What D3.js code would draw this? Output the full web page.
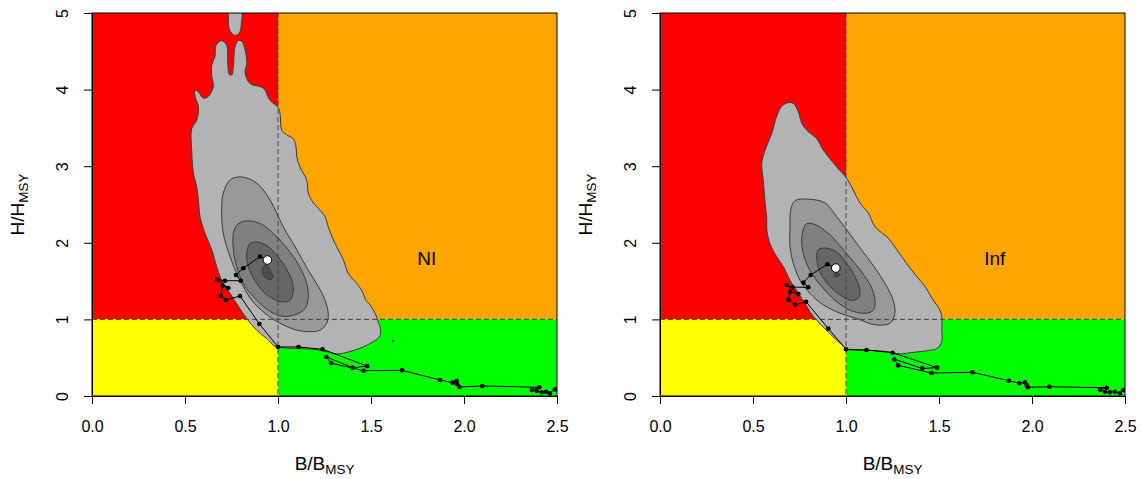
<!DOCTYPE html>
<html>
<head>
<meta charset="utf-8">
<script src="https://cdn.jsdelivr.net/npm/d3@7"></script>
<style>
  body { margin: 0; background: #fff; }
  text { font-family: "Liberation Sans", Arial, sans-serif; fill: #000; }
</style>
</head>
<body>
<svg width="1142" height="479"></svg>
<script>
const xTicks = [0, 0.5, 1, 1.5, 2, 2.5];
const yTicks = [0, 1, 2, 3, 4, 5];
const panelLabels = ["NI", "Inf"];

// kobe quadrants: [B0, B1, H0, H1, colour]
const quadrants = [
  [0, 1, 1, 5, "#ff0000"],
  [1, 2.5, 1, 5, "#ffa500"],
  [0, 1, 0, 1, "#ffff00"],
  [1, 2.5, 0, 1, "#00ff00"],
];
const contourFills = ["#b3b3b3", "#999999", "#808080", "#666666", "#4d4d4d"];

// ---- NI panel: density contours (B/Bmsy, H/Hmsy) ----
const niContour1 = [
  [1.00, 3.77], [0.957, 3.86], [0.921, 4.02], [0.849, 4.08], [0.823, 4.23], [0.832, 4.34],
  [0.823, 4.52], [0.805, 4.63], [0.787, 4.64], [0.769, 4.56], [0.76, 4.3], [0.751, 4.19],
  [0.738, 4.2], [0.73, 4.34], [0.724, 4.58], [0.697, 4.64], [0.667, 4.58], [0.661, 4.43],
  [0.644, 4.32], [0.644, 4.17], [0.652, 4.04], [0.625, 3.91], [0.598, 3.89], [0.572, 3.97],
  [0.554, 3.99], [0.554, 3.91], [0.572, 3.78], [0.563, 3.6], [0.536, 3.49], [0.536, 3.21],
  [0.545, 2.91], [0.563, 2.73], [0.572, 2.56], [0.581, 2.34], [0.608, 2.12], [0.644, 1.91],
  [0.67, 1.69], [0.697, 1.51], [0.742, 1.34], [0.787, 1.17], [0.832, 1.01], [0.885, 0.86],
  [0.939, 0.75], [0.984, 0.65], [1.02, 0.63], [1.118, 0.62], [1.226, 0.6], [1.316, 0.55],
  [1.387, 0.58], [1.459, 0.64], [1.512, 0.71], [1.545, 0.77], [1.552, 0.86], [1.539, 0.97],
  [1.522, 1.08], [1.495, 1.19], [1.473, 1.25], [1.45, 1.38], [1.423, 1.47], [1.378, 1.6],
  [1.351, 1.78], [1.324, 1.91], [1.297, 2.04], [1.27, 2.21], [1.253, 2.34], [1.217, 2.45],
  [1.19, 2.52], [1.163, 2.65], [1.154, 2.82], [1.118, 2.99], [1.101, 3.12], [1.097, 3.25],
  [1.082, 3.36], [1.047, 3.41], [1.02, 3.47], [1.011, 3.69],
];
const niContour1Top = [
  [0.74, 5.05], [0.733, 4.92], [0.74, 4.78], [0.765, 4.71], [0.79, 4.73], [0.803, 4.86], [0.80, 5.05],
];
const niContour1Dot = [[1.612, 0.72], [1.618, 0.73], [1.624, 0.72], [1.618, 0.71]];
const niContour2 = [
  [0.787, 2.86], [0.742, 2.82], [0.706, 2.65], [0.697, 2.43], [0.706, 2.12], [0.742, 1.82],
  [0.778, 1.6], [0.813, 1.43], [0.859, 1.25], [0.93, 1.08], [1.011, 0.95], [1.101, 0.86],
  [1.172, 0.84], [1.226, 0.86], [1.262, 0.95], [1.27, 1.08], [1.253, 1.25], [1.217, 1.43],
  [1.163, 1.64], [1.101, 1.91], [1.028, 2.21], [0.993, 2.39], [0.957, 2.56], [0.921, 2.69],
  [0.885, 2.78], [0.84, 2.84],
];
const niContour3 = [
  [0.778, 2.23], [0.813, 2.28], [0.867, 2.28], [0.921, 2.23], [0.975, 2.12], [1.028, 1.99],
  [1.082, 1.82], [1.127, 1.64], [1.154, 1.47], [1.163, 1.3], [1.145, 1.14], [1.091, 1.06],
  [1.028, 1.04], [0.975, 1.08], [0.921, 1.17], [0.867, 1.3], [0.813, 1.47], [0.778, 1.69],
  [0.76, 1.91], [0.76, 2.12],
];
const niContour4 = [
  [0.849, 1.99], [0.894, 2.01], [0.948, 1.95], [0.993, 1.84], [1.038, 1.69], [1.074, 1.51],
  [1.082, 1.36], [1.065, 1.25], [1.02, 1.23], [0.966, 1.28], [0.921, 1.36], [0.876, 1.51],
  [0.84, 1.69], [0.832, 1.86],
];
const niContour5 = [
  [0.921, 1.69], [0.939, 1.71], [0.953, 1.67], [0.966, 1.6], [0.975, 1.56], [0.957, 1.52],
  [0.93, 1.55], [0.916, 1.62],
];

// ---- NI panel: stock trajectory, first year to last year ----
const niB = [2.489, 2.462, 2.441, 2.418, 2.391, 2.364, 2.405, 2.098, 1.975, 1.964, 1.961, 1.939,
  1.871, 1.667, 1.46, 1.285, 1.26, 1.40, 1.48, 1.24, 1.11, 1.00, 0.90, 0.796, 0.72, 0.692,
  0.703, 0.733, 0.674, 0.715, 0.80, 0.774, 0.813, 0.903, 0.943];
const niH = [0.087, 0.035, 0.056, 0.048, 0.065, 0.078, 0.114, 0.131, 0.117, 0.153, 0.196, 0.174,
  0.209, 0.335, 0.33, 0.43, 0.51, 0.37, 0.39, 0.61, 0.64, 0.64, 0.94, 1.305, 1.253, 1.305,
  1.44, 1.41, 1.52, 1.505, 1.505, 1.58, 1.667, 1.82, 1.775];

// ---- Inf panel: density contours ----
const infContour1 = [
  [0.69, 3.83], [0.654, 3.78], [0.627, 3.65], [0.601, 3.43], [0.565, 3.21], [0.547, 3.04],
  [0.555, 2.82], [0.565, 2.52], [0.574, 2.3], [0.574, 2.17], [0.591, 1.99], [0.627, 1.82],
  [0.663, 1.69], [0.699, 1.51], [0.744, 1.34], [0.789, 1.17], [0.824, 1.04], [0.878, 0.9],
  [0.932, 0.77], [0.977, 0.67], [1.004, 0.61], [1.111, 0.6], [1.219, 0.58], [1.29, 0.55],
  [1.362, 0.57], [1.434, 0.59], [1.488, 0.62], [1.515, 0.71], [1.515, 0.86], [1.515, 1.04],
  [1.505, 1.12], [1.461, 1.28], [1.425, 1.43], [1.38, 1.56], [1.326, 1.73], [1.273, 1.91],
  [1.227, 2.06], [1.156, 2.21], [1.12, 2.39], [1.075, 2.52], [1.039, 2.69], [1.004, 2.84],
  [0.95, 2.99], [0.878, 3.21], [0.842, 3.36], [0.789, 3.47], [0.762, 3.56], [0.744, 3.71],
  [0.717, 3.82],
];
const infContour2 = [
  [0.797, 2.57], [0.887, 2.52], [0.95, 2.34], [1.004, 2.17], [1.058, 1.99], [1.111, 1.82],
  [1.165, 1.64], [1.219, 1.43], [1.254, 1.25], [1.263, 1.08], [1.237, 0.95], [1.156, 0.93],
  [1.058, 1.01], [0.968, 1.08], [0.878, 1.19], [0.806, 1.34], [0.753, 1.51], [0.717, 1.73],
  [0.699, 1.95], [0.699, 2.21], [0.703, 2.43], [0.726, 2.55],
];
const infContour3 = [
  [0.789, 2.25], [0.842, 2.23], [0.896, 2.14], [0.932, 2.06], [0.985, 1.91], [1.048, 1.73],
  [1.102, 1.56], [1.138, 1.41], [1.156, 1.25], [1.147, 1.12], [1.102, 1.08], [1.022, 1.12],
  [0.941, 1.25], [0.869, 1.43], [0.816, 1.6], [0.78, 1.78], [0.762, 1.99], [0.77, 2.17],
];
const infContour4 = [
  [0.851, 1.91], [0.896, 1.93], [0.95, 1.88], [1.004, 1.73], [1.048, 1.56], [1.075, 1.38],
  [1.066, 1.28], [1.022, 1.25], [0.968, 1.32], [0.914, 1.43], [0.869, 1.58], [0.846, 1.73],
];
const infContour5 = [[0.935, 1.58], [0.95, 1.6], [0.968, 1.585], [0.96, 1.56], [0.94, 1.56]];

// ---- Inf panel: stock trajectory ----
const infB = [2.491, 2.473, 2.446, 2.419, 2.392, 2.366, 2.402, 2.093, 1.977, 1.971, 1.962, 1.932,
  1.876, 1.68, 1.46, 1.28, 1.26, 1.41, 1.49, 1.25, 1.11, 1.00, 0.905, 0.785, 0.726, 0.69,
  0.699, 0.744, 0.681, 0.713, 0.797, 0.771, 0.81, 0.90, 0.945];
const infH = [0.078, 0.035, 0.056, 0.048, 0.056, 0.08, 0.108, 0.121, 0.114, 0.144, 0.179, 0.166,
  0.20, 0.31, 0.30, 0.40, 0.48, 0.36, 0.37, 0.565, 0.60, 0.61, 0.88, 1.23, 1.19, 1.26,
  1.36, 1.33, 1.45, 1.42, 1.42, 1.48, 1.58, 1.72, 1.67];

const svg = d3.select("svg");
const plotW = 465;
const plotH = 383;
const plotTop = 13;

const panels = [
  {
    label: panelLabels[0], left: 92,
    contours: [
      { level: 0, pts: niContour1 }, { level: 0, pts: niContour1Top }, { level: 0, pts: niContour1Dot },
      { level: 1, pts: niContour2 }, { level: 2, pts: niContour3 },
      { level: 3, pts: niContour4 }, { level: 4, pts: niContour5 },
    ],
    traj: niB.map((b, i) => [b, niH[i]]),
  },
  {
    label: panelLabels[1], left: 660,
    contours: [
      { level: 0, pts: infContour1 }, { level: 1, pts: infContour2 }, { level: 2, pts: infContour3 },
      { level: 3, pts: infContour4 }, { level: 4, pts: infContour5 },
    ],
    traj: infB.map((b, i) => [b, infH[i]]),
  },
];

const x = d3.scaleLinear().domain([0, 2.5]).range([0, plotW]);
const y = d3.scaleLinear().domain([0, 5]).range([plotH, 0]);

svg.append("defs").append("clipPath").attr("id", "plotclip")
  .append("rect").attr("width", plotW).attr("height", plotH);

const contourLine = d3.line()
  .x((d) => x(d[0]))
  .y((d) => y(d[1]))
  .curve(d3.curveCatmullRomClosed.alpha(0.5));

const trajLine = d3.line().x((d) => x(d[0])).y((d) => y(d[1]));

panels.forEach((p) => {
  const g = svg.append("g").attr("transform", `translate(${p.left},${plotTop})`);
  const plot = g.append("g").attr("clip-path", "url(#plotclip)");

  plot.selectAll("rect.quad")
    .data(quadrants)
    .enter()
    .append("rect")
    .attr("class", "quad")
    .attr("x", (d) => x(d[0]))
    .attr("width", (d) => x(d[1]) - x(d[0]))
    .attr("y", (d) => y(d[3]))
    .attr("height", (d) => y(d[2]) - y(d[3]))
    .attr("fill", (d) => d[4]);

  plot.selectAll("path.contour")
    .data(p.contours)
    .enter()
    .append("path")
    .attr("class", "contour")
    .attr("d", (d) => contourLine(d.pts))
    .attr("fill", (d) => contourFills[d.level])
    .attr("stroke", "#3a3a3a")
    .attr("stroke-width", 1);

  // reference lines at B = Bmsy and H = Hmsy
  plot.append("line")
    .attr("x1", x(1)).attr("x2", x(1)).attr("y1", 0).attr("y2", plotH)
    .attr("stroke", "#444").attr("stroke-dasharray", "5,3");
  plot.append("line")
    .attr("x1", 0).attr("x2", plotW).attr("y1", y(1)).attr("y2", y(1))
    .attr("stroke", "#444").attr("stroke-dasharray", "5,3");

  plot.append("path")
    .attr("d", trajLine(p.traj))
    .attr("fill", "none")
    .attr("stroke", "#000")
    .attr("stroke-width", 1);

  plot.selectAll("circle.yr")
    .data(p.traj.slice(0, -1))
    .enter()
    .append("circle")
    .attr("class", "yr")
    .attr("cx", (d) => x(d[0]))
    .attr("cy", (d) => y(d[1]))
    .attr("r", 2.3)
    .attr("fill", "#000");

  const last = p.traj[p.traj.length - 1];
  plot.append("circle")
    .attr("cx", x(last[0]))
    .attr("cy", y(last[1]))
    .attr("r", 4.3)
    .attr("fill", "#fff")
    .attr("stroke", "#000")
    .attr("stroke-width", 1);

  g.append("text")
    .attr("x", x(1.8))
    .attr("y", y(1.8) + 7)
    .attr("text-anchor", "middle")
    .attr("font-size", 19)
    .text(p.label);

  // box
  g.append("rect")
    .attr("width", plotW).attr("height", plotH)
    .attr("fill", "none").attr("stroke", "#000").attr("stroke-width", 1);

  const xAxis = g.append("g")
    .attr("transform", `translate(0,${plotH})`)
    .call(d3.axisBottom(x).tickValues(xTicks).tickSize(8).tickSizeOuter(0)
      .tickPadding(17).tickFormat(d3.format(".1f")));
  xAxis.selectAll("text").attr("font-size", 16);

  const yAxis = g.append("g")
    .call(d3.axisLeft(y).tickValues(yTicks).tickSize(8).tickSizeOuter(0)
      .tickFormat(d3.format("d")));
  yAxis.selectAll(".tick text")
    .attr("x", null).attr("dy", null)
    .attr("text-anchor", "middle")
    .attr("font-size", 16)
    .attr("transform", "translate(-24,0) rotate(-90)");

  [xAxis, yAxis].forEach((a) => {
    a.selectAll("path, line").attr("stroke", "#000");
    a.selectAll("text").attr("fill", "#000").attr("font-family", null);
  });
  xAxis.attr("font-family", null);
  yAxis.attr("font-family", null);

  const xTitle = g.append("text")
    .attr("x", plotW / 2)
    .attr("y", plotH + 74)
    .attr("text-anchor", "middle")
    .attr("font-size", 19);
  xTitle.append("tspan").text("B/B");
  xTitle.append("tspan").attr("font-size", 13.4).attr("dy", 4).text("MSY");

  const yTitle = g.append("text")
    .attr("transform", `translate(-68,${plotH / 2}) rotate(-90)`)
    .attr("text-anchor", "middle")
    .attr("font-size", 19);
  yTitle.append("tspan").text("H/H");
  yTitle.append("tspan").attr("font-size", 13.4).attr("dy", 4).text("MSY");
});
</script>
</body>
</html>
